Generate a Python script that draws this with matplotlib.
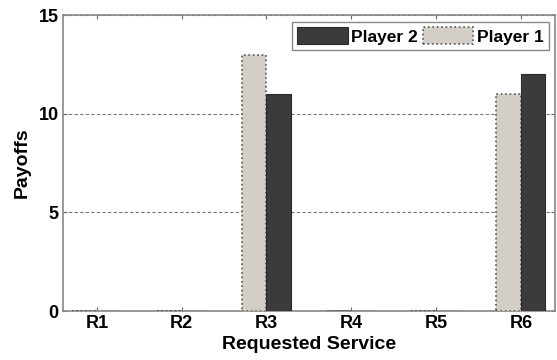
import numpy as np
import matplotlib
matplotlib.use("Agg")
import matplotlib.pyplot as plt

# payoff per requested service
services = ["R1", "R2", "R3", "R4", "R5", "R6"]
player1 = [0, 0, 13, 0, 0, 11]
player2 = [0, 0, 11, 0, 0, 12]

plt.rcParams["font.family"] = ["Liberation Sans", "DejaVu Sans"]
plt.rcParams["font.weight"] = "bold"

fig = plt.figure(figsize=(5.57, 3.6), dpi=100)
ax = fig.add_axes([0.113, 0.136, 0.883, 0.822])

x = np.arange(1, len(services) + 1)
w = 0.29
b1 = ax.bar(x - w / 2, player1, w, color="#d3cfc6", edgecolor="#555555",
            linestyle=":", linewidth=1.2, label="Player 1", zorder=3)
b2 = ax.bar(x + w / 2, player2, w, color="#3b3b3b", edgecolor="#2a2a2a",
            linewidth=0.8, label="Player 2", zorder=3)

ax.set_xlim(0.6, 6.4)
ax.set_ylim(0, 15)
ax.set_xticks(x)
ax.set_xticklabels(services)
ax.set_yticks([0, 5, 10, 15])
ax.yaxis.grid(True, linestyle=(0, (3, 2)), color="#777777", linewidth=0.8)
ax.tick_params(direction="in", top=True, right=True, length=3,
               labelsize=13, color="#666666", pad=3)
for s in ax.spines.values():
    s.set_color("#888888")
    s.set_linewidth(1.2)

ax.set_xlabel("Requested Service", fontsize=14, fontweight="bold", labelpad=3)
ax.set_ylabel("Payoffs", fontsize=14, fontweight="bold", labelpad=6)

leg = ax.legend([b2, b1], ["Player 2", "Player 1"], ncol=2, loc="upper right",
                bbox_to_anchor=(0.988, 0.976), borderaxespad=0,
                fontsize=12.5, handlelength=2.9, handleheight=1.1,
                columnspacing=0.3, handletextpad=0.2, borderpad=0.3,
                fancybox=False, framealpha=1)
leg.get_frame().set_edgecolor("#888888")
leg.get_frame().set_linewidth(1.0)

fig.savefig("out.png", dpi=100)
